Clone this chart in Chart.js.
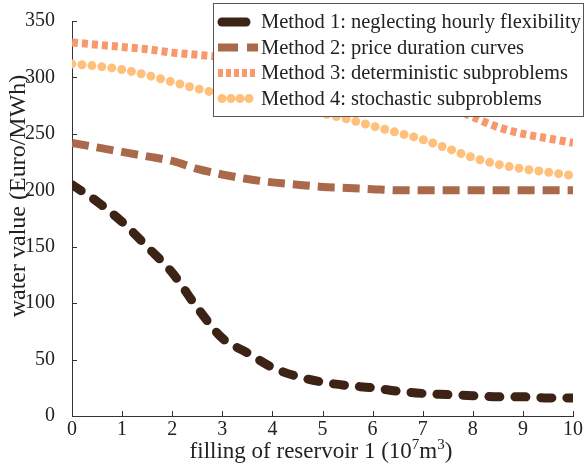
<!DOCTYPE html>
<html>
<head>
<meta charset="utf-8">
<script src="https://cdn.jsdelivr.net/npm/chart.js@4"></script>
<style>
  html, body { margin: 0; padding: 0; background: #fff; }
  #wrap { width: 585px; height: 469px; }
</style>
</head>
<body>
<div id="wrap"><canvas id="chart"></canvas></div>
<script>
// datos
const filling = [0, 0.5, 1, 1.5, 2, 2.5, 3, 3.5, 4, 4.5, 5, 5.5, 6, 6.5, 7, 7.5, 8, 8.5, 9, 9.5, 10];
const method1 = [205, 190, 172, 150, 127, 96, 69, 56, 43, 35, 30, 27, 25, 22, 20, 19, 18, 17, 17, 16, 16];
const method2 = [242, 238, 234, 230, 226, 219, 214, 210, 207, 205, 203, 202, 201, 200, 200, 200, 200, 200, 200, 200, 200];
const method3 = [331, 329, 327, 325, 322, 320, 318, 315, 312, 308, 304, 300, 295, 289, 283, 275, 265, 256, 250, 246, 242];
const method4 = [312, 310, 307, 302, 296, 290, 285, 280, 275, 271, 268, 263, 257, 251, 245, 237, 229, 223, 219, 216, 213];
const labels = [
    'Method 1: neglecting hourly flexibility',
    'Method 2: price duration curves',
    'Method 3: deterministic subproblems',
    'Method 4: stochastic subproblems'
];
const xTicks = [0, 1, 2, 3, 4, 5, 6, 7, 8, 9, 10];
const yTicks = [0, 50, 100, 150, 200, 250, 300, 350];
const yTitle = 'water value (Euro/MWh)';
// titulo x con superindices: [texto, superindice?]
const xTitle = [['filling of reservoir 1 (10', false], ['7', true], ['m', false], ['3', true], [')', false]];

const font = "'Liberation Serif', 'Times New Roman', serif";
const textColor = '#222222';
const axisColor = '#333333';

const toPoints = ys => ys.map((y, i) => ({ x: filling[i], y: y }));

const styles = [
    { color: '#3c2316', width: 9, dash: [11, 15], cap: 'round' },
    { color: '#a9694a', width: 8, dash: [17, 8], cap: 'butt' },
    { color: '#f9996b', width: 8, dash: [6, 4], cap: 'butt' },
    { color: '#fec07a', width: 9, dash: [0, 10], cap: 'round' }
];

const series = [method1, method2, method3, method4];

const datasets = series.map((s, i) => ({
    label: labels[i],
    data: toPoints(s),
    borderColor: styles[i].color,
    borderWidth: styles[i].width,
    borderDash: styles[i].dash,
    borderCapStyle: styles[i].cap,
    borderJoinStyle: 'round',
    cubicInterpolationMode: 'monotone',
    pointRadius: 0,
    fill: false
}));

// ticks hacia dentro, titulos y leyenda encima de las lineas
const extras = {
    id: 'extras',
    afterDatasetsDraw(chart) {
        const ctx = chart.ctx;
        const a = chart.chartArea;
        const xs = chart.scales.x, ys = chart.scales.y;
        ctx.save();
        ctx.strokeStyle = axisColor;
        ctx.lineWidth = 1;
        ctx.setLineDash([]);
        xTicks.forEach(t => {
            const px = Math.round(xs.getPixelForValue(t)) + 0.5;
            ctx.beginPath();
            ctx.moveTo(px, a.bottom);
            ctx.lineTo(px, a.bottom - 5);
            ctx.stroke();
        });
        yTicks.forEach(t => {
            const py = Math.round(ys.getPixelForValue(t)) + 0.5;
            ctx.beginPath();
            ctx.moveTo(a.left, py);
            ctx.lineTo(a.left + 5, py);
            ctx.stroke();
        });

        // titulo eje y
        ctx.fillStyle = textColor;
        ctx.save();
        ctx.translate(25, 196);
        ctx.rotate(-Math.PI / 2);
        ctx.font = '24px ' + font;
        ctx.textAlign = 'center';
        ctx.textBaseline = 'alphabetic';
        ctx.fillText(yTitle, 0, 0);
        ctx.restore();

        // titulo eje x
        const big = '23px ' + font, small = '15px ' + font;
        let total = 0;
        xTitle.forEach(p => {
            ctx.font = p[1] ? small : big;
            total += ctx.measureText(p[0]).width;
        });
        let cx = 321 - total / 2;
        ctx.textAlign = 'left';
        ctx.textBaseline = 'alphabetic';
        xTitle.forEach(p => {
            ctx.font = p[1] ? small : big;
            ctx.fillText(p[0], cx, p[1] ? 449 : 458);
            cx += ctx.measureText(p[0]).width;
        });

        // leyenda
        const bx = 213.5, by = 3.5, bw = 370, bh = 113;
        ctx.fillStyle = '#ffffff';
        ctx.fillRect(bx, by, bw, bh);
        ctx.strokeStyle = '#555555';
        ctx.strokeRect(bx, by, bw, bh);
        ctx.font = '20.5px ' + font;
        ctx.textBaseline = 'middle';
        labels.forEach((lab, i) => {
            const y = 22 + i * 25.5;
            const st = styles[i];
            ctx.save();
            ctx.strokeStyle = st.color;
            ctx.lineWidth = st.width;
            ctx.lineCap = st.cap;
            if (i === 0) ctx.setLineDash([24, 8]);
            else if (i === 1) ctx.setLineDash([20, 9]);
            else if (i === 2) ctx.setLineDash([5, 3]);
            else ctx.setLineDash([0, 9]);
            const x0 = st.cap === 'round' ? 222 : 218;
            const x1 = st.cap === 'round' ? 254 : 258;
            ctx.beginPath();
            ctx.moveTo(x0, y);
            ctx.lineTo(x1, y);
            ctx.stroke();
            ctx.restore();
            ctx.fillStyle = textColor;
            ctx.fillText(lab, 261, y + 1);
        });
        ctx.restore();
    }
};

new Chart(document.getElementById('chart'), {
    type: 'line',
    data: { datasets: datasets },
    plugins: [extras],
    options: {
        responsive: true,
        maintainAspectRatio: false,
        animation: false,
        layout: { padding: { top: 21, right: 12, left: 0, bottom: 0 } },
        plugins: {
            legend: { display: false },
            tooltip: { enabled: false }
        },
        scales: {
            x: {
                type: 'linear',
                min: 0,
                max: 10,
                afterBuildTicks: s => { s.ticks = xTicks.map(v => ({ value: v })); },
                afterFit: s => { s.height = 53; },
                grid: { display: false, drawTicks: false },
                border: { display: true, color: axisColor, width: 1 },
                ticks: {
                    color: textColor,
                    padding: 2,
                    maxRotation: 0,
                    font: { family: font, size: 20 }
                }
            },
            y: {
                min: 0,
                max: 350,
                afterBuildTicks: s => { s.ticks = yTicks.map(v => ({ value: v })); },
                afterFit: s => { s.width = 72; },
                grid: { display: false },
                border: { display: true, color: axisColor, width: 1 },
                ticks: {
                    color: textColor,
                    padding: 9,
                    font: { family: font, size: 20 }
                }
            }
        }
    }
});
</script>
</body>
</html>
